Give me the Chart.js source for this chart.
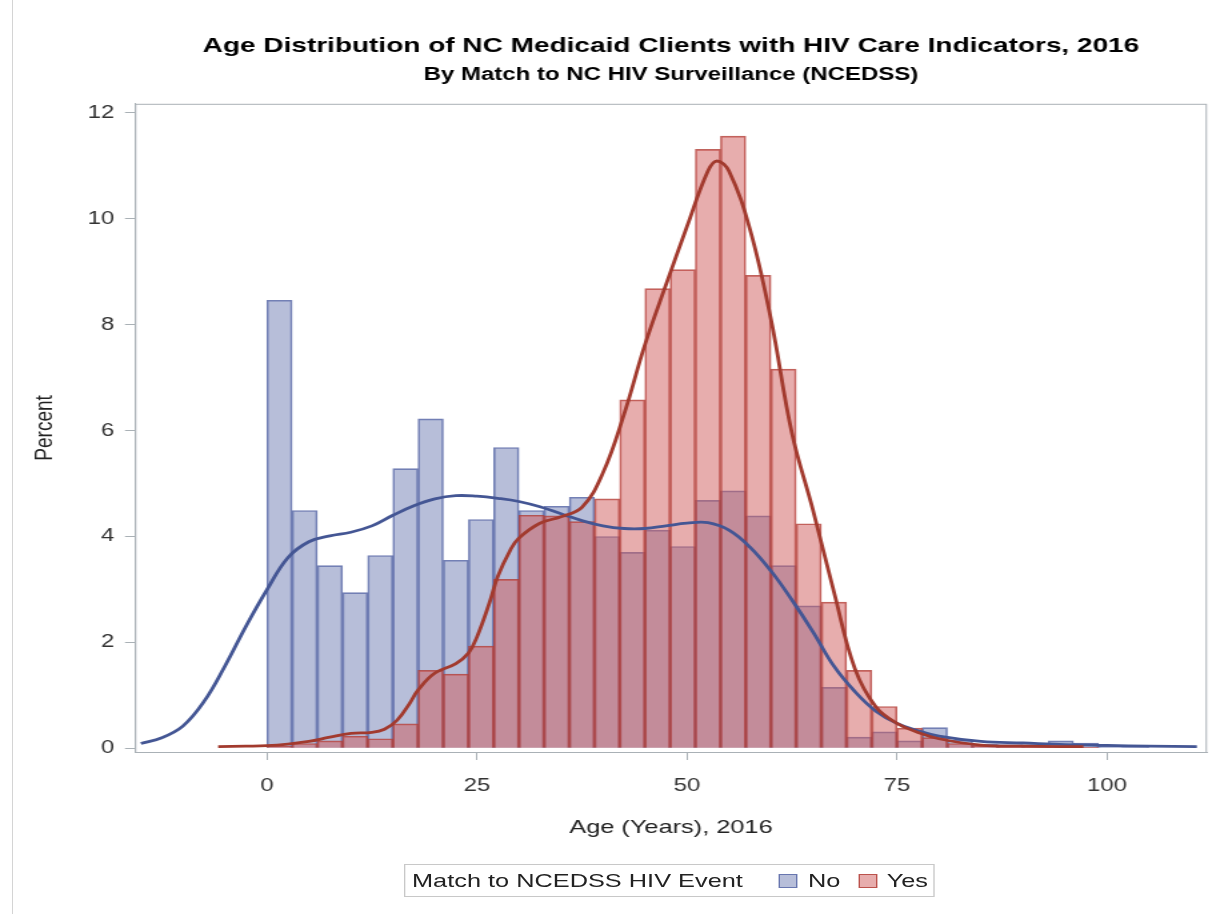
<!DOCTYPE html>
<html>
<head>
<meta charset="utf-8">
<title>Age Distribution of NC Medicaid Clients with HIV Care Indicators, 2016</title>
<script src="https://cdn.jsdelivr.net/npm/chart.js@4.4.1/dist/chart.umd.min.js"></script>
<style>
  html, body { margin: 0; padding: 0; background: #fff; }
  #wrap { position: relative; width: 1212px; height: 914px; overflow: hidden; }
  /* the reference is a horizontally stretched image: draw at 909px and stretch to 1212px */
  #stage { position: absolute; left: 0; top: 0; width: 909px; height: 914px;
           transform: scaleX(1.33333); transform-origin: 0 0; }
  #edge { position: absolute; left: 12px; top: 0; width: 1px; height: 914px; background: #d4d4d4; }
  #legend {
    position: absolute; left: 303px; top: 864px; width: 398px; height: 33px;
    border: 1px solid #c8c8c8; box-sizing: border-box;
    font: 19px "Liberation Sans", Arial, sans-serif; color: #222;
  }
  #legend span { position: absolute; top: 50%; transform: translateY(-50%); white-space: nowrap; }
  #legend .sw { width: 14px; height: 14px; box-sizing: border-box; }
</style>
</head>
<body>
<div id="wrap">
  <div id="stage">
    <canvas id="chart" width="909" height="914"></canvas>
    <div id="legend"></div>
  </div>
  <div id="edge"></div>
</div>
<script>
// ── Data ──

const chartTitle = "Age Distribution of NC Medicaid Clients with HIV Care Indicators, 2016";
const chartSubtitle = "By Match to NC HIV Surveillance (NCEDSS)";
const legendTitle = "Match to NCEDSS HIV Event";
const groupNames = ["No", "Yes"];

// histogram bin midpoints (3-year bins)
const binMid = [1.5, 4.5, 7.5, 10.5, 13.5, 16.5, 19.5, 22.5, 25.5, 28.5,
                31.5, 34.5, 37.5, 40.5, 43.5, 46.5, 49.5, 52.5, 55.5, 58.5,
                61.5, 64.5, 67.5, 70.5, 73.5, 76.5, 79.5, 82.5, 85.5, 88.5,
                91.5, 94.5, 97.5, 100.5, 103.5];

const noPct  = [8.46, 4.49, 3.45, 2.94, 3.64, 5.28, 6.22, 3.55, 4.32, 5.68,
                4.49, 4.57, 4.74, 4.00, 3.70, 4.12, 3.81, 4.68, 4.86, 4.39,
                3.45, 2.69, 1.15, 0.21, 0.31, 0.14, 0.39, 0.16, 0.08, 0.07,
                0.06, 0.14, 0.10, 0.04, 0.03];

const yesPct = [0.04, 0.09, 0.14, 0.23, 0.18, 0.46, 1.47, 1.40, 1.93, 3.19,
                4.40, 4.39, 4.28, 4.71, 6.58, 8.68, 9.04, 11.31, 11.56, 8.93,
                7.16, 4.24, 2.76, 1.47, 0.79, 0.38, 0.20, 0.09, 0.05, 0.03,
                0.02, 0.03, 0.02, null, null];

// kernel density curves
const noKdeAge = [-15, -12.5, -10, -7.5, -5, -2.5, 0, 2.5, 5, 7.5, 10, 12.5, 15, 17.5, 20,
                  22.5, 25, 27.5, 30, 32.5, 35, 37.5, 40, 42.5, 45, 47.5, 50, 52.5, 55,
                  57.5, 60, 62.5, 65, 67.5, 70, 72.5, 75, 77.5, 80, 85, 90, 95, 100, 105, 110.7];
const noKdePct = [0.09, 0.2, 0.42, 0.88, 1.55, 2.3, 2.99, 3.6, 3.9, 4.01, 4.08, 4.2, 4.4, 4.58, 4.71,
                  4.77, 4.76, 4.72, 4.66, 4.56, 4.43, 4.3, 4.2, 4.15, 4.15, 4.2, 4.25, 4.26, 4.12,
                  3.8, 3.35, 2.8, 2.2, 1.55, 1.07, 0.7, 0.47, 0.33, 0.23, 0.13, 0.1, 0.07, 0.055, 0.04, 0.03];

const yesKdeAge = [-5.8, -2.5, 0, 2.5, 5, 7.5, 10, 12.5, 14, 15.5, 17, 18, 20, 22.5, 24, 25,
                   26.5, 27.5, 29, 30, 32.5, 35, 37.5, 40, 42.5, 45, 47.5, 50, 52.5, 53.6, 55,
                   57.5, 60, 62.5, 65, 67.5, 70, 72.5, 75, 77.5, 80, 85, 90, 97.2];
const yesKdePct = [0.03, 0.04, 0.05, 0.08, 0.13, 0.21, 0.28, 0.3, 0.36, 0.53, 0.85, 1.1, 1.42, 1.6, 1.8, 2.1,
                   2.75, 3.25, 3.75, 3.97, 4.25, 4.37, 4.55, 5.2, 6.3, 7.62, 8.75, 9.85, 10.9, 11.09, 10.9,
                   9.8, 8.1, 5.95, 4.5, 2.95, 1.5, 0.78, 0.47, 0.3, 0.18, 0.06, 0.04, 0.03];

const xTicks = [0, 25, 50, 75, 100];
const yTicks = [0, 2, 4, 6, 8, 10, 12];

// ── Styles ──
const FONT = '"Liberation Sans", Arial, sans-serif';
const AXIS_GRAY = "#aab1b6";
const fillColors = ["rgba(111,126,179,0.5)", "rgba(208,91,91,0.5)"];
const edgeColors = ["rgba(90,106,168,0.85)", "rgba(176,60,52,0.8)"];
const curveColors = ["#445694", "#A23A2E"];

function pairs(xs, ys) {
  return xs.map((x, i) => ({ x, y: ys[i] })).filter(p => p.y !== null);
}

// plot frame (top/right edges)
const framePlugin = {
  id: "frame",
  beforeDatasetsDraw(chart) {
    const { ctx, chartArea: a } = chart;
    ctx.save();
    ctx.strokeStyle = AXIS_GRAY;
    ctx.lineWidth = 1;
    ctx.strokeRect(a.left + 0.5, a.top + 0.5, a.right - a.left - 1, a.bottom - a.top);
    ctx.restore();
  }
};

new Chart(document.getElementById("chart"), {
  type: "bar",
  data: {
    datasets: [
      {
        type: "line", label: groupNames[1] + " density", data: pairs(yesKdeAge, yesKdePct),
        borderColor: curveColors[1], borderWidth: 2.8, pointRadius: 0,
        tension: 0.4, order: 0
      },
      {
        type: "line", label: groupNames[0] + " density", data: pairs(noKdeAge, noKdePct),
        borderColor: curveColors[0], borderWidth: 2.8, pointRadius: 0,
        tension: 0.4, order: 1
      },
      {
        label: groupNames[1], data: pairs(binMid, yesPct),
        backgroundColor: fillColors[1], borderColor: edgeColors[1], borderWidth: 1,
        order: 2
      },
      {
        label: groupNames[0], data: pairs(binMid, noPct),
        backgroundColor: fillColors[0], borderColor: edgeColors[0], borderWidth: 1,
        order: 3
      }
    ]
  },
  options: {
    responsive: false,
    animation: false,
    devicePixelRatio: 1,
    layout: { padding: { left: 0, right: 3.75, top: 0, bottom: 62 } },
    datasets: { bar: { grouped: false, barPercentage: 1, categoryPercentage: 1 } },
    plugins: {
      legend: { display: false },
      tooltip: { enabled: false },
      title: {
        display: true, text: chartTitle, fullSize: false, color: "#000",
        font: { family: FONT, size: 21, weight: "bold" },
        padding: { top: 34, bottom: 0 }
      },
      subtitle: {
        display: true, text: chartSubtitle, fullSize: false, color: "#000",
        font: { family: FONT, size: 18, weight: "bold" },
        padding: { top: 5, bottom: 18 }
      }
    },
    scales: {
      x: {
        type: "linear", min: -15.7, max: 111.9, offset: false,
        afterBuildTicks: s => { s.ticks = xTicks.map(v => ({ value: v })); },
        afterFit: s => { s.height = 100; },
        grid: { display: true, drawOnChartArea: false, drawTicks: true, tickLength: 8, tickColor: AXIS_GRAY, offset: false },
        border: { display: true, color: AXIS_GRAY, width: 1 },
        ticks: { color: "#333", font: { family: FONT, size: 18 }, padding: 15, maxRotation: 0 },
        title: { display: true, text: "Age (Years), 2016", color: "#222", font: { family: FONT, size: 19 }, padding: { top: 0, bottom: 12.6 } }
      },
      y: {
        min: -0.07, max: 12.17,
        afterBuildTicks: s => { s.ticks = yTicks.map(v => ({ value: v })); },
        afterFit: s => { s.width = 101.25; },
        grid: { display: true, drawOnChartArea: false, drawTicks: true, tickLength: 7.5, tickColor: AXIS_GRAY },
        border: { display: true, color: AXIS_GRAY, width: 1 },
        ticks: { color: "#333", font: { family: FONT, size: 18 }, padding: 8 },
        title: { display: true, text: "Percent", color: "#222", font: { family: FONT, size: 19 }, padding: { top: 22.4, bottom: 0 } }
      }
    }
  },
  plugins: [framePlugin]
});

// ── HTML legend ──
(function () {
  const $legend = document.getElementById("legend");
  const items = [
    { text: legendTitle, left: 5 },
    { swatch: 0, left: 280 },
    { text: groupNames[0], left: 302 },
    { swatch: 1, left: 340 },
    { text: groupNames[1], left: 361 }
  ];
  items.forEach(it => {
    const el = document.createElement("span");
    el.style.left = it.left + "px";
    if (it.swatch !== undefined) {
      el.className = "sw";
      el.style.background = fillColors[it.swatch];
      el.style.border = "1px solid " + edgeColors[it.swatch];
    } else {
      el.textContent = it.text;
    }
    $legend.appendChild(el);
  });
})();
</script>
</body>
</html>
